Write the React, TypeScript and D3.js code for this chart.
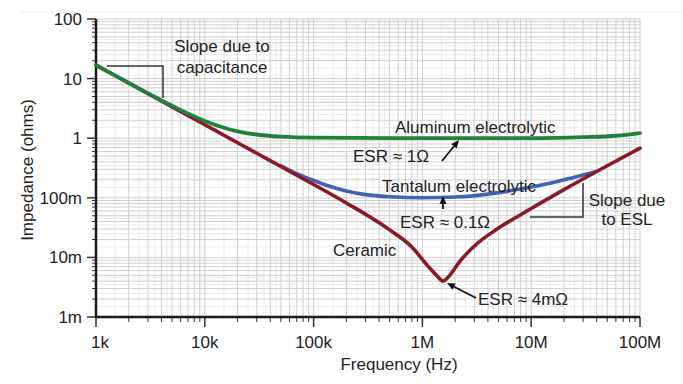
import React from "react";
import * as d3 from "d3";

const W = 683;
const H = 384;
const left = 96;
const right = 640;
const top = 19;
const bottom = 317;

// axis ticks
const xTickValues = [1e3, 1e4, 1e5, 1e6, 1e7, 1e8];
const xTickLabels = ["1k", "10k", "100k", "1M", "10M", "100M"];
const yTickValues = [1e-3, 1e-2, 1e-1, 1, 10, 100];
const yTickLabels = ["1m", "10m", "100m", "1", "10", "100"];

// Aluminum electrolytic
const aluFreq = [1e3, 2e3, 5e3, 1e4, 2e4, 5e4, 1e5, 1e6, 1e7, 3e7, 6e7, 1e8];
const aluZ = [16.8, 8.5, 3.5, 1.95, 1.3, 1.06, 1.02, 1.0, 1.0, 1.04, 1.1, 1.22];

// Tantalum electrolytic
const tanFreq = [5e4, 7e4, 1e5, 1.5e5, 2e5, 3e5, 5e5, 1e6, 2e6, 3.4e6, 5e6, 7.9e6, 1.48e7, 2.5e7, 3.8e7];
const tanZ = [0.345, 0.255, 0.195, 0.15, 0.13, 0.113, 0.104, 0.1, 0.103, 0.111, 0.122, 0.14, 0.175, 0.222, 0.27];

// Ceramic
const cerFreq = [1e3, 2e3, 5e3, 1e4, 2e4, 5e4, 1e5, 2e5, 5e5, 8e5, 1.1e6, 1.35e6, 1.55e6, 1.75e6, 2.2e6, 3.3e6, 4.6e6, 1e7, 2e7, 5e7, 1e8];
const cerZ = [16.8, 8.4, 3.36, 1.68, 0.84, 0.335, 0.167, 0.082, 0.029, 0.015, 0.0075, 0.005, 0.004, 0.0048, 0.0085, 0.018, 0.028, 0.066, 0.137, 0.345, 0.68];

const x = d3.scaleLog().domain([1e3, 1e8]).range([left, right]);
const y = d3.scaleLog().domain([1e-3, 1e2]).range([bottom, top]);

const line = d3
  .line<[number, number]>()
  .x((d) => x(d[0]))
  .y((d) => y(d[1]))
  .curve(d3.curveMonotoneX);

const zip = (f: number[], z: number[]) => f.map((v, i) => [v, z[i]] as [number, number]);

// minor grid: 1..9 per decade, plus half steps
const gridX = x.ticks();
const gridY = y.ticks();
const halfX: number[] = [];
xTickValues.slice(0, -1).forEach((d) => [1.5, 2.5, 3.5, 4.5].forEach((m) => halfX.push(d * m)));
const halfY: number[] = [];
yTickValues.slice(0, -1).forEach((d) => [1.5, 2.5, 3.5, 4.5].forEach((m) => halfY.push(d * m)));

const font = "'Liberation Sans', Arial, sans-serif";
const txt = "#222";

function Arrow({ x1, y1, x2, y2 }: { x1: number; y1: number; x2: number; y2: number }) {
  const a = Math.atan2(y2 - y1, x2 - x1);
  const L = 8, w = 3.5;
  const bx = x2 - L * Math.cos(a), by = y2 - L * Math.sin(a);
  const p1 = [bx + w * Math.sin(a), by - w * Math.cos(a)];
  const p2 = [bx - w * Math.sin(a), by + w * Math.cos(a)];
  return (
    <g>
      <line x1={x1} y1={y1} x2={bx} y2={by} stroke="#111" strokeWidth={1.8} />
      <polygon points={`${x2},${y2} ${p1[0]},${p1[1]} ${p2[0]},${p2[1]}`} fill="#111" />
    </g>
  );
}

export default function App() {
  return (
    <svg width={W} height={H} style={{ position: "absolute", left: 0, top: 0, background: "#fff" }} fontFamily={font}>
      <line x1={20} x2={W} y1={12} y2={12} stroke="#eee" />
      {/* grid */}
      {halfX.map((d, i) => (
        <line key={"hx" + i} x1={x(d)} x2={x(d)} y1={top} y2={bottom} stroke="#e6e6e6" strokeWidth={0.8} />
      ))}
      {halfY.map((d, i) => (
        <line key={"hy" + i} x1={left} x2={right} y1={y(d)} y2={y(d)} stroke="#e6e6e6" strokeWidth={0.8} />
      ))}
      {gridX.map((d, i) => (
        <line key={"gx" + i} x1={x(d)} x2={x(d)} y1={top} y2={bottom} stroke="#cfcfcf" strokeWidth={1} />
      ))}
      {gridY.map((d, i) => (
        <line key={"gy" + i} x1={left} x2={right} y1={y(d)} y2={y(d)} stroke="#cfcfcf" strokeWidth={1} />
      ))}

      {/* axes */}
      {gridY.map((d, i) => {
        const major = yTickValues.some((v) => Math.abs(v - d) / v < 1e-6);
        return <line key={"ty" + i} x1={left - (major ? 9 : 4)} x2={left} y1={y(d)} y2={y(d)} stroke="#333" strokeWidth={major ? 1.5 : 1} />;
      })}
      {gridX.map((d, i) => {
        const major = xTickValues.some((v) => Math.abs(v - d) / v < 1e-6);
        return <line key={"tx" + i} x1={x(d)} x2={x(d)} y1={bottom} y2={bottom + (major ? 10 : 5)} stroke="#333" strokeWidth={major ? 1.5 : 1} />;
      })}
      <line x1={left} x2={left} y1={top} y2={bottom + 1} stroke="#1a1a1a" strokeWidth={2.5} />
      <line x1={left - 1} x2={right} y1={bottom} y2={bottom} stroke="#1a1a1a" strokeWidth={2.5} />

      {yTickValues.map((d, i) => (
        <text key={"ly" + i} x={82} y={y(d) + 6} textAnchor="end" fontSize={17} fill={txt}>
          {yTickLabels[i]}
        </text>
      ))}
      {xTickValues.map((d, i) => (
        <text key={"lx" + i} x={x(d) + (i === 0 ? 4 : 0)} y={348} textAnchor="middle" fontSize={17} fill={txt}>
          {xTickLabels[i]}
        </text>
      ))}
      <text x={399} y={370} textAnchor="middle" fontSize={17} fill={txt}>Frequency (Hz)</text>
      <text transform="translate(33,170) rotate(-90)" textAnchor="middle" fontSize={17} fill={txt}>Impedance (ohms)</text>

      {/* curves */}
      <path d={line(zip(tanFreq, tanZ)) || ""} fill="none" stroke="#4262b3" strokeWidth={3.6} strokeLinecap="round" />
      <path d={line(zip(cerFreq, cerZ)) || ""} fill="none" stroke="#8a1b24" strokeWidth={3.6} strokeLinecap="round" />
      <path d={line(zip(aluFreq, aluZ)) || ""} fill="none" stroke="#22803f" strokeWidth={3.8} strokeLinecap="round" />

      {/* annotations */}
      <polyline points="107,66 163,66 163,98" fill="none" stroke="#333" strokeWidth={1.5} />
      <text x={222} y={52} textAnchor="middle" fontSize={17} fill={txt}>Slope due to</text>
      <text x={222} y={73} textAnchor="middle" fontSize={17} fill={txt}>capacitance</text>

      <text x={395} y={133} fontSize={17} fill={txt}>Aluminum electrolytic</text>
      <text x={353} y={162} fontSize={17} fill={txt}>ESR ≈ 1Ω</text>
      <Arrow x1={442} y1={161} x2={459} y2={140} />

      <text x={382} y={192} fontSize={17} fill={txt}>Tantalum electrolytic</text>
      <text x={400} y={228} fontSize={17} fill={txt}>ESR ≈ 0.1Ω</text>
      <Arrow x1={443} y1={209} x2={443} y2={196} />

      <polyline points="530,217 583,217 583,183" fill="none" stroke="#333" strokeWidth={1.5} />
      <text x={627} y={206} textAnchor="middle" fontSize={17} fill={txt}>Slope due</text>
      <text x={627} y={225} textAnchor="middle" fontSize={17} fill={txt}>to ESL</text>

      <text x={333} y={256} fontSize={17} fill={txt}>Ceramic</text>
      <text x={478} y={305} fontSize={17} fill={txt}>ESR ≈ 4mΩ</text>
      <Arrow x1={476} y1={298} x2={447} y2={283} />
    </svg>
  );
}
